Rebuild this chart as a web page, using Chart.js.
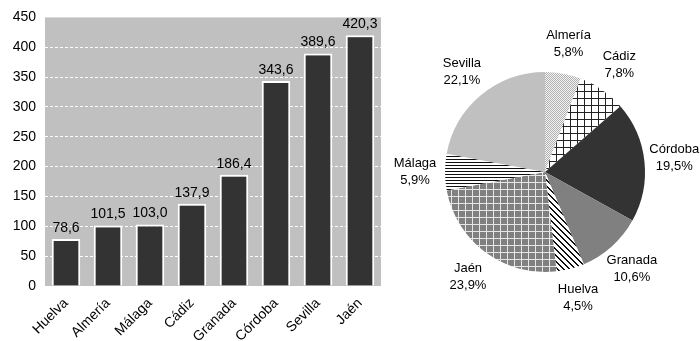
<!DOCTYPE html>
<html><head><meta charset="utf-8">
<script src="https://cdn.jsdelivr.net/npm/chart.js@4/dist/chart.umd.min.js"></script>
<style>
html,body{margin:0;padding:0;background:#fff;}
#wrap{position:relative;width:700px;height:341px;overflow:hidden;}
#bar{position:absolute;left:0;top:0;width:400px;height:341px;}
#pie{position:absolute;left:360px;top:0;width:340px;height:341px;}
</style></head><body>
<div id="wrap"><div id="bar"><canvas id="c1"></canvas></div><div id="pie"><canvas id="c2"></canvas></div></div>
<script>
const barCategories = ['Huelva','Almería','Málaga','Cádiz','Granada','Córdoba','Sevilla','Jaén'];
const barValues = [78.6, 101.5, 103.0, 137.9, 186.4, 343.6, 389.6, 420.3];
const yTicks = [0, 50, 100, 150, 200, 250, 300, 350, 400, 450];
const pieCategories = ['Almería','Cádiz','Córdoba','Granada','Huelva','Jaén','Málaga','Sevilla'];
const piePercents = [5.8, 7.8, 19.5, 10.6, 4.5, 23.9, 5.9, 22.1];

const FONT = '"Liberation Sans", Arial, sans-serif';
const fmt = v => v.toFixed(1).replace('.', ',');

function makePattern(w, h, draw) {
  const c = document.createElement('canvas');
  c.width = w; c.height = h;
  const g = c.getContext('2d');
  draw(g, w, h);
  return g.createPattern(c, 'repeat');
}
const pAlmeria = makePattern(2, 2, g => {
  g.fillStyle = '#f4f4f4'; g.fillRect(0, 0, 2, 2);
  g.fillStyle = '#b0b0b0'; g.fillRect(0, 0, 1, 1); g.fillRect(1, 1, 1, 1);
});
const pCadiz = makePattern(7, 7, g => {
  g.fillStyle = '#fff'; g.fillRect(0, 0, 7, 7);
  g.fillStyle = '#222'; g.fillRect(0, 0, 1, 7); g.fillRect(0, 0, 7, 1);
});
const pHuelva = makePattern(6, 6, g => {
  g.fillStyle = '#fff'; g.fillRect(0, 0, 6, 6);
  g.fillStyle = '#111';
  for (let x = 0; x < 6; x++) for (let y = 0; y < 6; y++) {
    if ((((x - y) % 6) + 6) % 6 < 2) g.fillRect(x, y, 1, 1);
  }
});
const pJaen = makePattern(7, 7, g => {
  g.fillStyle = '#808080'; g.fillRect(0, 0, 7, 7);
  g.fillStyle = '#e6e6e6'; g.fillRect(0, 0, 1, 7); g.fillRect(0, 0, 7, 1);
});
const pMalaga = makePattern(4, 3, g => {
  g.fillStyle = '#fff'; g.fillRect(0, 0, 4, 3);
  g.fillStyle = '#111'; g.fillRect(0, 0, 4, 1);
});
const pieColors = [pAlmeria, pCadiz, '#333333', '#808080', pHuelva, pJaen, pMalaga, '#c0c0c0'];

const plotBg = {
  id: 'plotBg',
  beforeDraw(chart) {
    const a = chart.chartArea, ctx = chart.ctx;
    ctx.save(); ctx.fillStyle = '#c0c0c0';
    ctx.fillRect(a.left, a.top, a.right - a.left, a.bottom - a.top);
    ctx.restore();
  }
};
const barLabels = {
  id: 'barLabels',
  afterDatasetsDraw(chart) {
    const ctx = chart.ctx, meta = chart.getDatasetMeta(0);
    ctx.save();
    ctx.font = '14px ' + FONT; ctx.fillStyle = '#000';
    ctx.textAlign = 'center'; ctx.textBaseline = 'bottom';
    meta.data.forEach((el, i) => ctx.fillText(fmt(barValues[i]), el.x, el.y - 4));
    ctx.restore();
  }
};

new Chart(document.getElementById('c1'), {
  type: 'bar',
  data: { labels: barCategories, datasets: [{ data: barValues, backgroundColor: '#333333', borderColor: '#ffffff', borderWidth: 2, categoryPercentage: 1, barPercentage: 0.68 }] },
  options: {
    responsive: true, maintainAspectRatio: false, animation: false,
    layout: { padding: { top: 17, right: 19, left: 0, bottom: 0 } },
    plugins: { legend: { display: false }, tooltip: { enabled: false } },
    scales: {
      x: {
        grid: { display: false }, border: { display: false },
        ticks: { color: '#000', font: { family: FONT, size: 14 }, maxRotation: 45, minRotation: 45, padding: 1 },
        afterFit(s) { s.height = 55; }
      },
      y: {
        min: 0, max: 450,
        afterBuildTicks(s) { s.ticks = yTicks.map(v => ({ value: v })); },
        grid: { color: c => (c.tick && (c.tick.value === 0 || c.tick.value === 450)) ? 'rgba(0,0,0,0)' : '#ffffff', lineWidth: 1, drawTicks: false },
        border: { display: false, dash: [3, 2] },
        ticks: { color: '#000', font: { family: FONT, size: 14 }, padding: 9 },
        afterFit(s) { s.width = 45; }
      }
    }
  },
  plugins: [plotBg, barLabels]
});

const pieLabels = {
  id: 'pieLabels',
  afterDatasetsDraw(chart) {
    const ctx = chart.ctx, meta = chart.getDatasetMeta(0);
    ctx.save();
    ctx.font = '13px ' + FONT; ctx.fillStyle = '#000';
    ctx.textAlign = 'center'; ctx.textBaseline = 'middle';
    meta.data.forEach((arc, i) => {
      const mid = (arc.startAngle + arc.endAngle) / 2;
      const r = arc.outerRadius + 30;
      const x = arc.x + Math.cos(mid) * r, y = arc.y + Math.sin(mid) * r;
      ctx.fillText(pieCategories[i], x, y - 8.5);
      ctx.fillText(fmt(piePercents[i]) + '%', x, y + 8.5);
    });
    ctx.restore();
  }
};

new Chart(document.getElementById('c2'), {
  type: 'pie',
  data: { labels: pieCategories, datasets: [{ data: piePercents, backgroundColor: pieColors, borderWidth: 0 }] },
  options: {
    responsive: true, maintainAspectRatio: false, animation: false,
    layout: { padding: { left: 85, right: 55, top: 72, bottom: 69 } },
    plugins: { legend: { display: false }, tooltip: { enabled: false } }
  },
  plugins: [pieLabels]
});
</script>
</body></html>
